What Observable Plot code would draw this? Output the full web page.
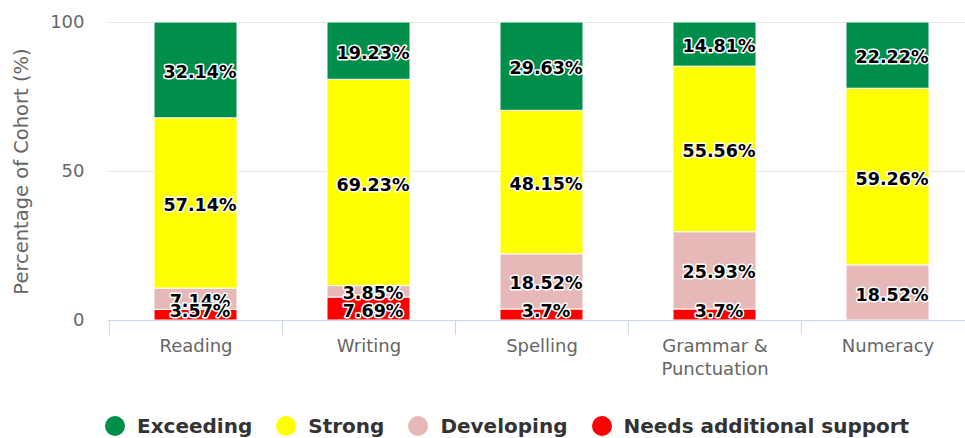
<!DOCTYPE html>
<html><head><meta charset="utf-8">
<script src="https://cdn.jsdelivr.net/npm/d3@7"></script>
<script src="https://cdn.jsdelivr.net/npm/@observablehq/plot@0.6"></script>
<style>
body{margin:0;background:#fff;font-family:"DejaVu Sans",sans-serif;overflow:hidden;}
#wrap{position:relative;width:965px;height:438px;overflow:hidden;}
#chart{position:absolute;left:0;top:0;}
#chart svg{max-width:none !important;}
#legend{position:absolute;left:105px;top:414px;height:24px;display:flex;align-items:center;font-weight:bold;font-size:20px;color:#333;white-space:nowrap;}
.item{display:flex;align-items:center;margin-right:24px;}
.sw{width:20px;height:20px;border-radius:50%;margin-right:12px;}
</style></head><body><div id="wrap"><div id="chart"></div><div id="legend"></div></div>
<script>
const categories = ["Reading","Writing","Spelling","Grammar & Punctuation","Numeracy"];
const tickLabels = ["Reading","Writing","Spelling","Grammar &\nPunctuation","Numeracy"];
const seriesNames = ["Exceeding","Strong","Developing","Needs additional support"];
const seriesColors = ["#008e4b","#ffff00","#e6b9b8","#ff0000"];
const exceeding = [32.14,19.23,29.63,14.81,22.22];
const strong = [57.14,69.23,48.15,55.56,59.26];
const developing = [7.14,3.85,18.52,25.93,18.52];
const needs = [3.57,7.69,3.7,3.7,0];
const yTicks = [0,50,100];
const yTitle = "Percentage of Cohort (%)";

const seriesValues = {"Exceeding":exceeding,"Strong":strong,"Developing":developing,"Needs additional support":needs};
const stackOrder = ["Needs additional support","Developing","Strong","Exceeding"];
const rows = [];
categories.forEach((c,i)=>{
  let base = 0;
  stackOrder.forEach(s=>{
    const v = seriesValues[s][i];
    rows.push({category:c, series:s, value:v, y1:base, y2:base+v, labelY:Math.max(base+v/2,3.8)});
    base += v;
  });
});
const visible = rows.filter(d=>d.value>0);
const labelRows = visible.slice().sort((a,b)=>seriesNames.indexOf(a.series)-seriesNames.indexOf(b.series));

const W = 974, ML = 108, MR = 0;
const step = (W-ML-MR)/categories.length;

const chart = Plot.plot({
  width:W, height:438, marginTop:22, marginBottom:118, marginLeft:ML, marginRight:MR,
  style:{fontFamily:"DejaVu Sans", background:"#fff", maxWidth:"none"},
  x:{domain:categories, paddingInner:0.521, paddingOuter:0.26, label:null},
  y:{domain:[0,100], label:null},
  color:{domain:seriesNames, range:seriesColors},
  marks:[
    Plot.gridY([50,100],{stroke:"#e6e6e6", strokeOpacity:1}),
    Plot.axisY(yTicks,{tickSize:0, tickPadding:24, fontSize:18, fill:"#666", label:null}),
    Plot.text([yTitle],{frameAnchor:"left", textAnchor:"middle", rotate:-90, dx:-87, fontSize:19.5, fill:"#666"}),
    Plot.barY(visible,{x:"category", y1:"y1", y2:"y2", fill:"series", stroke:"#fff", strokeWidth:1}),
    Plot.ruleY([0],{stroke:"#ccd6eb"}),
    Plot.axisX({tickSize:15, stroke:"#ccd6eb", strokeOpacity:1, tickFormat:()=>"", dx:-step/2, label:null}),
    Plot.axisX({tickSize:0, tickPadding:16, fontSize:18, fill:"#666", lineHeight:1.25, tickFormat:d=>tickLabels[categories.indexOf(d)], label:null}),
    Plot.text(labelRows,{x:"category", y:"labelY", text:d=>d.value+"%", fontWeight:"bold", fontSize:17.5, fill:"#000", stroke:"#fff", strokeWidth:3, dx:4, dy:2})
  ]
});
document.getElementById("chart").appendChild(chart);

const legend = document.getElementById("legend");
seriesNames.forEach((s,i)=>{
  const it = document.createElement("div"); it.className="item";
  const sw = document.createElement("span"); sw.className="sw"; sw.style.background=seriesColors[i];
  const tx = document.createElement("span"); tx.textContent=s;
  it.appendChild(sw); it.appendChild(tx); legend.appendChild(it);
});
</script></body></html>
